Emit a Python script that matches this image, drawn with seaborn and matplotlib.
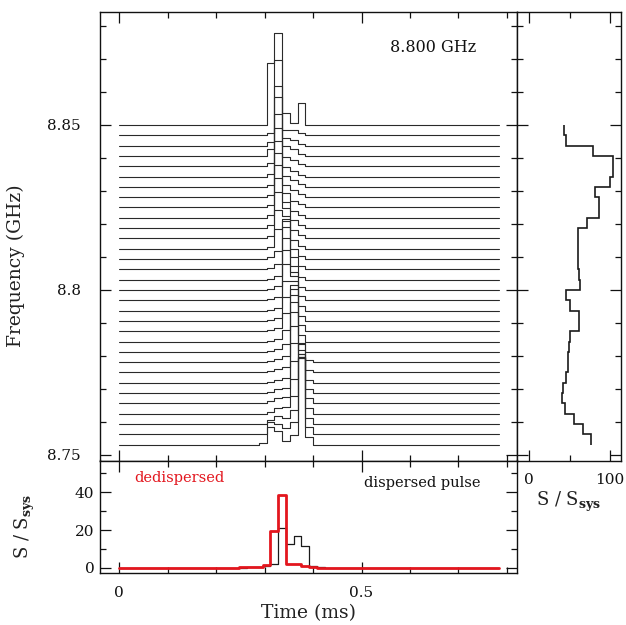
import numpy as np
import pandas as pd
import matplotlib
matplotlib.use("Agg")
import matplotlib.pyplot as plt
from matplotlib.ticker import MultipleLocator, FixedLocator, FixedFormatter
import seaborn as sns

# ---------------- data ----------------
n_chan = 32
chan_step = 0.003125                      # GHz
channel_freqs = 8.85 - chan_step * np.arange(n_chan)   # top channel first
dt = 0.016                                # ms per sample
n_samp = 50
times = dt * np.arange(n_samp)
pulse_first_bin = 18
# pulse amplitudes (S/Ssys-like units) in bins 18..24, one row per channel (top -> bottom)
pulse_bins = [
    [0, 62, 92, 12, 2, 22, 0],
    [0, 2, 75, 5, 5, 2, 0],
    [0, 4, 59, 8, 6, 2, 0],
    [0, 7, 59, 10, 7, 2, 0],
    [0, 3, 52, 9, 6, 2, 0],
    [0, 3, 48, 10, 6, 2, 0],
    [0, 2, 46, 11, 7, 3, 0],
    [0, 2, 44, 12, 7, 3, 0],
    [0, 2, 42, 14, 6, 3, 0],
    [0, 3, 40, 16, 7, 3, 0],
    [0, 3, 36, 20, 8, 3, 0],
    [0, 2, 28, 22, 8, 3, 0],
    [0, 2, 20, 30, 9, 3, 0],
    [0, 2, 8, 38, 10, 3, 0],
    [0, 1, 5, 42, 12, 3, 0],
    [0, 1, 4, 42, 14, 3, 0],
    [0, 1, 4, 40, 18, 3, 0],
    [0, 1, 3, 36, 24, 4, 0],
    [0, 1, 3, 30, 30, 5, 0],
    [0, 1, 3, 24, 36, 5, 0],
    [0, 1, 3, 18, 42, 6, 0],
    [0, 1, 3, 12, 46, 7, 0],
    [0, 1, 3, 8, 50, 9, 0],
    [0, 1, 3, 6, 50, 12, 2],
    [0, 1, 3, 5, 46, 18, 2],
    [0, 1, 3, 5, 40, 26, 3],
    [0, 1, 4, 5, 32, 36, 4],
    [0, 2, 5, 6, 24, 46, 5],
    [0, 2, 6, 7, 18, 56, 6],
    [0, 4, 8, 6, 14, 66, 6],
    [0, 12, 10, 6, 12, 80, 7],
    [2, 18, 14, 4, 10, 100, 8],
]
amp_scale = 0.000304                      # GHz per unit in the waterfall

# spectrum (right panel), top step first
spectrum = [43, 46, 79, 104, 104, 100, 82, 87, 87, 72, 60, 60, 61, 61, 62, 63,
            46, 50, 62, 62, 50, 49, 48, 48, 46, 42, 41, 44, 55, 67, 76]

# bottom panel profiles (S/Ssys), non-zero samples
dispersed_idx = [17, 18, 19, 20, 21, 22, 23, 24, 25, 26]
dispersed_val = [0.3, 0.5, 1.0, 2.0, 21.3, 12.6, 16.8, 11.5, 0.8, 0.3]
dedisp_idx = [16, 17, 18, 19, 20, 21, 22, 23, 24, 25]
dedisp_val = [0.3, 0.7, 0.7, 1.8, 19.5, 38.3, 2.3, 2.0, 1.0, 0.3]

# ---------------- build tables ----------------
rows = []
for k in range(n_chan):
    v = np.zeros(n_samp)
    v[pulse_first_bin:pulse_first_bin + len(pulse_bins[k])] = pulse_bins[k]
    for t, a in zip(times, v):
        rows.append({"chan": k, "time": t, "y": channel_freqs[k] + a * amp_scale})
wf = pd.DataFrame(rows)

disp = np.zeros(n_samp); disp[dispersed_idx] = dispersed_val
dedi = np.zeros(n_samp); dedi[dedisp_idx] = dedisp_val
prof = pd.DataFrame({"time": times, "disp": disp, "dedi": dedi})

# ---------------- style ----------------
sns.set_theme(style="ticks")
plt.rcParams["font.family"] = ["DejaVu Serif", "DejaVu Sans"]
plt.rcParams["mathtext.fontset"] = "dejavuserif"
plt.rcParams["axes.linewidth"] = 1.0

fig = plt.figure(figsize=(6.26, 6.25), dpi=100)
W, H = 626.0, 625.0
ax_main = fig.add_axes([100 / W, 1 - 460.5 / H, 417 / W, 448.8 / H])
ax_right = fig.add_axes([517 / W, 1 - 460.5 / H, 103.7 / W, 448.8 / H])
ax_bot = fig.add_axes([100 / W, 1 - 573.3 / H, 417 / W, 112.8 / H])

def style_ticks(ax):
    ax.tick_params(which="both", direction="in", top=True, right=True,
                   bottom=True, left=True, colors="#111111", labelsize=11)
    ax.tick_params(which="major", length=8, width=0.9)
    ax.tick_params(which="minor", length=4, width=0.9)
    for s in ax.spines.values():
        s.set_color("#111111")

# ---------------- main waterfall ----------------
sns.lineplot(data=wf, x="time", y="y", units="chan", estimator=None,
             color="#2a2a2a", linewidth=0.8, drawstyle="steps-post",
             legend=False, ax=ax_main)
ax_main.set_xlim(-0.04, 0.821)
ax_main.set_ylim(8.74833, 8.88433)
ax_main.xaxis.set_major_locator(FixedLocator([0, 0.5]))
ax_main.xaxis.set_minor_locator(MultipleLocator(0.1))
ax_main.yaxis.set_major_locator(FixedLocator([8.75, 8.80, 8.85]))
ax_main.yaxis.set_major_formatter(FixedFormatter(["8.75", "8.8", "8.85"]))
ax_main.yaxis.set_minor_locator(MultipleLocator(0.01))
style_ticks(ax_main)
ax_main.tick_params(labelbottom=False, pad=14)
ax_main.set_xlabel("")
ax_main.set_ylabel("Frequency (GHz)", fontsize=13.5, color="#222222")
ax_main.yaxis.set_label_coords(-0.18, 0.435)
ax_main.text(0.647, 8.8734, "8.800 GHz", ha="center", va="center",
             fontsize=11.5, color="#111111")

# ---------------- right spectrum ----------------
edges = channel_freqs[:len(spectrum) + 1][::-1]
ax_right.stairs(spectrum[::-1], edges, orientation="horizontal", baseline=None,
                color="#1a1a1a", linewidth=1.2)
ax_right.set_xlim(-15.3, 113.4)
ax_right.set_ylim(8.74833, 8.88433)
ax_right.xaxis.set_major_locator(FixedLocator([0, 100]))
ax_right.xaxis.set_minor_locator(FixedLocator([50]))
ax_right.yaxis.set_major_locator(FixedLocator([8.75, 8.80, 8.85]))
ax_right.yaxis.set_minor_locator(MultipleLocator(0.01))
style_ticks(ax_right)
ax_right.tick_params(labelleft=False, pad=9)
ax_right.set_xlabel(r"S / S$_{\mathbf{sys}}$", fontsize=13, color="#222222", labelpad=2)

# ---------------- bottom profiles ----------------
sns.lineplot(data=prof, x="time", y="disp", color="#1a1a1a", linewidth=0.9,
             drawstyle="steps-mid", ax=ax_bot)
sns.lineplot(data=prof, x="time", y="dedi", color="#e3161e", linewidth=2.0,
             drawstyle="steps-mid", ax=ax_bot)
ax_bot.set_xlim(-0.04, 0.821)
ax_bot.set_ylim(-2.8, 56.7)
ax_bot.xaxis.set_major_locator(FixedLocator([0, 0.5]))
ax_bot.xaxis.set_major_formatter(FixedFormatter(["0", "0.5"]))
ax_bot.xaxis.set_minor_locator(MultipleLocator(0.1))
ax_bot.yaxis.set_major_locator(FixedLocator([0, 20, 40]))
ax_bot.yaxis.set_minor_locator(FixedLocator([10, 30, 50]))
style_ticks(ax_bot)
ax_bot.tick_params(axis="x", pad=9)
ax_bot.tick_params(axis="y", pad=4)
ax_bot.set_xlabel("Time (ms)", fontsize=13.5, color="#222222", labelpad=3)
ax_bot.set_ylabel(r"S / S$_{\mathbf{sys}}$", fontsize=13, color="#222222")
ax_bot.yaxis.set_label_coords(-0.15, 0.42)
ax_bot.text(0.123, 47.7, "dedispersed", color="#e3161e", ha="center",
            va="center", fontsize=10.5)
ax_bot.text(0.625, 45.0, "dispersed pulse", color="#111111", ha="center",
            va="center", fontsize=10.5)

fig.savefig("out.png", dpi=100)
